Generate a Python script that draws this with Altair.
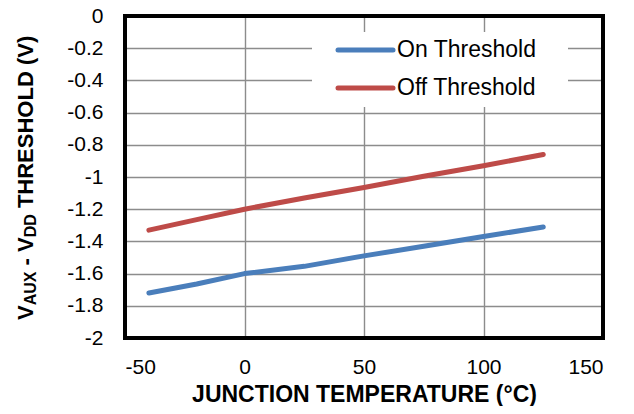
import altair as alt
import pandas as pd

# ---- data ----
temps = [-40, -20, 0, 25, 50, 75, 100, 125]
on_threshold = [-1.72, -1.665, -1.60, -1.555, -1.49, -1.43, -1.37, -1.31]
off_threshold = [-1.33, -1.265, -1.20, -1.13, -1.065, -0.995, -0.93, -0.86]
series_names = ["On Threshold", "Off Threshold"]
series_colors = ["#4A7EBB", "#BE4B48"]
x_ticks = [-50, 0, 50, 100, 150]
y_ticks = [0, -0.2, -0.4, -0.6, -0.8, -1, -1.2, -1.4, -1.6, -1.8, -2]
x_title = "JUNCTION TEMPERATURE (°C)"

rows = []
for t, a, b in zip(temps, on_threshold, off_threshold):
    rows.append({"temp": t, "value": a, "series": series_names[0]})
    rows.append({"temp": t, "value": b, "series": series_names[1]})
df = pd.DataFrame(rows)

W, H = 478, 322
FONT = "Liberation Sans"
one = alt.Data(values=[{}])

x_enc = alt.X(
    "temp:Q",
    scale=alt.Scale(domain=[-50, 150], nice=False, zero=False),
    axis=alt.Axis(
        values=x_ticks,
        title=x_title,
        labelExpr="'' + datum.value",
        labelPadding=18,
        titleFontSize=23,
        titleFontWeight="bold",
        titleBaseline="alphabetic",
        titleY=63,
    ),
)
y_enc = alt.Y(
    "value:Q",
    scale=alt.Scale(domain=[-2, 0], nice=False, zero=False),
    axis=alt.Axis(
        values=y_ticks,
        title="",
        labelExpr="'' + datum.value",
        labelPadding=22,
    ),
)

lines = alt.Chart(df).mark_line(
    strokeWidth=5, strokeCap="round", strokeJoin="round"
).encode(
    x=x_enc,
    y=y_enc,
    color=alt.Color(
        "series:N",
        scale=alt.Scale(domain=series_names, range=series_colors),
        legend=None,
    ),
)

# legend (drawn inside the plot, top right)
legend_bg = alt.Chart(one).mark_rect(color="white").encode(
    x=alt.value(187), x2=alt.value(443), y=alt.value(16), y2=alt.value(91)
)
legend_layers = [legend_bg]
for i, (name, col) in enumerate(zip(series_names, series_colors)):
    yy = 34 + 38 * i
    legend_layers.append(
        alt.Chart(one).mark_rule(strokeWidth=5, strokeCap="round", color=col).encode(
            x=alt.value(213), x2=alt.value(268), y=alt.value(yy)
        )
    )
    legend_layers.append(
        alt.Chart(one).mark_text(
            align="left", baseline="middle", fontSize=23, font=FONT, color="black"
        ).encode(x=alt.value(272), y=alt.value(yy), text=alt.value(name))
    )

# y-axis title with subscripts, V_AUX - V_DD THRESHOLD (V)
ytitle_parts = [
    ("V", 22, -92, 304),
    ("AUX", 16, -89.5, 289.3),
    ("- V", 22, -92, 249.4),
    ("DD", 16, -89.5, 221.3),
    ("THRESHOLD (V)", 22, -92, 192.1),
]
ytitle_layers = []
for txt, size, xx, yy in ytitle_parts:
    ytitle_layers.append(
        alt.Chart(one).mark_text(
            angle=270, align="left", baseline="alphabetic", fontSize=size,
            fontWeight="bold", font=FONT, color="black"
        ).encode(x=alt.value(xx), y=alt.value(yy), text=alt.value(txt))
    )

frame = alt.Chart(one).mark_rect(
    fillOpacity=0, stroke="black", strokeWidth=4
).encode(x=alt.value(0), x2=alt.value(W), y=alt.value(0), y2=alt.value(H))

chart = alt.layer(
    lines, *legend_layers, *ytitle_layers, frame
).properties(
    width=W,
    height=H,
    autosize=alt.AutoSizeParams(type="none"),
    padding={"left": 117, "top": 8, "right": 20, "bottom": 68},
).configure_view(
    strokeWidth=0
).configure_axis(
    grid=True,
    gridColor="#8c8c8c",
    gridWidth=1.4,
    domain=False,
    ticks=False,
    tickSize=0,
    labelFont=FONT,
    labelFontSize=21,
    labelColor="black",
    titleFont=FONT,
    titleColor="black",
)

chart.save("out.html", embed_options={"renderer": "svg", "actions": False})
